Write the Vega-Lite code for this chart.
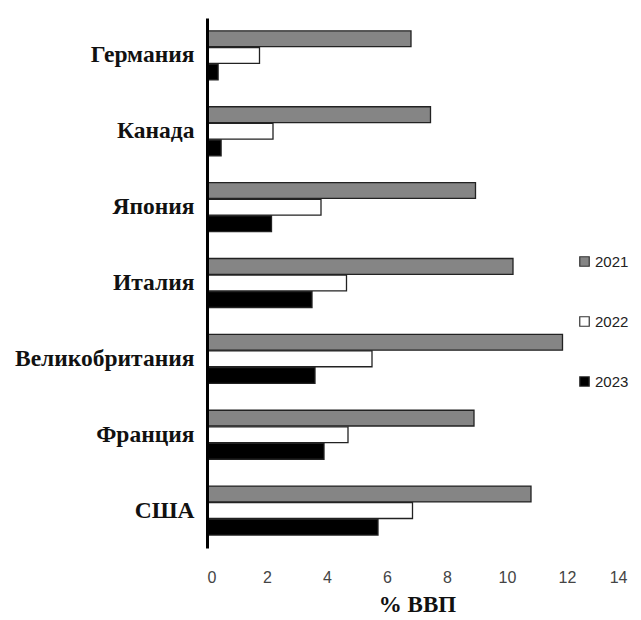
{
  "$schema": "https://vega.github.io/schema/vega-lite/v6.json",
  "autosize": {"type": "none"},
  "padding": {"left": 207, "top": 18, "right": 14, "bottom": 72},
  "width": 420,
  "height": 530,
  "background": "white",
  "data": {
    "values": [
      {"country": "Германия", "year": "2021", "value": 6.8},
      {"country": "Германия", "year": "2022", "value": 1.75},
      {"country": "Германия", "year": "2023", "value": 0.37},
      {"country": "Канада", "year": "2021", "value": 7.45},
      {"country": "Канада", "year": "2022", "value": 2.2},
      {"country": "Канада", "year": "2023", "value": 0.47},
      {"country": "Япония", "year": "2021", "value": 8.95},
      {"country": "Япония", "year": "2022", "value": 3.8},
      {"country": "Япония", "year": "2023", "value": 2.15},
      {"country": "Италия", "year": "2021", "value": 10.2},
      {"country": "Италия", "year": "2022", "value": 4.65},
      {"country": "Италия", "year": "2023", "value": 3.5},
      {"country": "Великобритания", "year": "2021", "value": 11.85},
      {"country": "Великобритания", "year": "2022", "value": 5.5},
      {"country": "Великобритания", "year": "2023", "value": 3.6},
      {"country": "Франция", "year": "2021", "value": 8.9},
      {"country": "Франция", "year": "2022", "value": 4.7},
      {"country": "Франция", "year": "2023", "value": 3.9},
      {"country": "США", "year": "2021", "value": 10.8},
      {"country": "США", "year": "2022", "value": 6.85},
      {"country": "США", "year": "2023", "value": 5.7}
    ]
  },
  "mark": {"type": "bar", "stroke": "#222222", "strokeWidth": 1.3},
  "encoding": {
    "y": {
      "field": "country",
      "type": "nominal",
      "sort": null,
      "scale": {"paddingInner": 0.354, "paddingOuter": 0.17},
      "axis": {
        "title": null,
        "zindex": 1,
        "domainColor": "#000000",
        "domainWidth": 3,
        "ticks": false,
        "labelFont": "Liberation Serif",
        "labelFontWeight": "bold",
        "labelFontSize": 23.5,
        "labelColor": "#111111",
        "labelPadding": 13,
        "labelLimit": 300
      }
    },
    "yOffset": {
      "field": "year",
      "type": "nominal",
      "scale": {"paddingInner": 0.05}
    },
    "x": {
      "field": "value",
      "type": "quantitative",
      "scale": {"domain": [0, 14]},
      "axis": {
        "title": "% ВВП",
        "values": [0, 2, 4, 6, 8, 10, 12, 14],
        "grid": false,
        "domain": false,
        "ticks": false,
        "labelFont": "Liberation Sans",
        "labelFontSize": 16,
        "labelColor": "#444444",
        "labelPadding": 21,
        "titleFont": "Liberation Serif",
        "titleFontWeight": "bold",
        "titleFontSize": 23,
        "titleColor": "#111111",
        "titlePadding": 8
      }
    },
    "color": {
      "field": "year",
      "type": "nominal",
      "scale": {"domain": ["2021", "2022", "2023"], "range": ["#858585", "#ffffff", "#000000"]},
      "legend": {
        "title": null,
        "orient": "none",
        "legendX": 370,
        "legendY": 236,
        "symbolType": "square",
        "symbolSize": 90,
        "symbolStrokeColor": "#333333",
        "symbolStrokeWidth": 1.2,
        "labelFont": "Liberation Sans",
        "labelFontSize": 15,
        "labelColor": "#222222",
        "labelOffset": 3,
        "rowPadding": 44
      }
    }
  },
  "config": {"view": {"stroke": null}}
}
